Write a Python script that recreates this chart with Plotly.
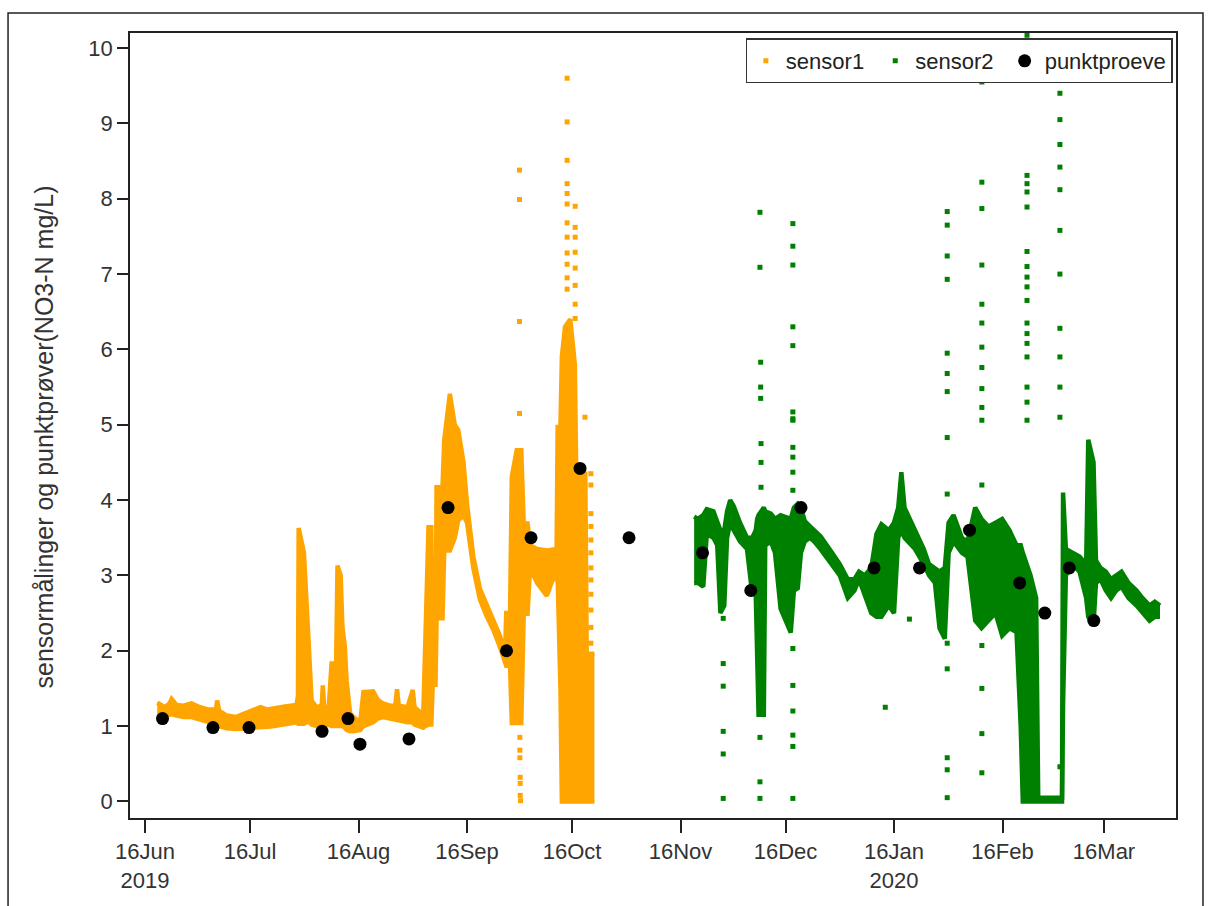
import numpy as np
import pandas as pd
import plotly.graph_objects as go

BASE = pd.Timestamp("2019-06-16")

# ---------------- sensor1 (days since 16Jun2019, low / high envelope) ----------------
s1_day = [3.5, 5.7, 7.0, 7.6, 9.0, 11, 13.3, 15.7, 18, 20.3, 20.6, 21.2, 23.3, 26, 28, 30, 31.5, 33, 35, 37, 40,
          43.3, 43.7, 43.9, 45.4, 46.2, 47.1, 47.6, 49, 50.5, 50.8, 51.2, 52.5, 53.3, 54.6, 55.0, 55.9, 56.4,
          57.1, 57.6, 58.6, 59.5, 61.5, 62.4, 65.2, 66.5, 68, 70, 71.5, 72, 72.5, 75, 76.5, 77, 79.5, 80.0,
          81.0, 81.8, 82.2, 83.0, 83.3, 85.0, 85.5, 87.1, 88.5, 89.5, 91, 92, 93.8, 95.7, 97.6, 99.5, 101.4,
          102.9, 103.2, 104.3, 104.8, 106.2, 107.5, 108.2, 109.3, 110, 112, 114.8, 116.5, 117.6, 117.9, 118.7,
          119.1, 120.0, 121.5, 122.8, 123.2, 125.0, 125.8, 126.2, 128.4]
s1_lo = [1.17, 1.14, 1.15, 1.16, 1.14, 1.12, 1.12, 1.09, 1.05, 1.03, 1.02, 1.0, 0.97, 0.96, 0.96, 0.97, 0.98, 0.98,
         0.99, 1.0, 1.02, 1.05, 1.1, 1.03, 1.03, 1.05, 1.05, 1.02, 1.0, 1.0, 1.0, 1.0, 1.02, 1.0, 1.0, 1.0, 1.0,
         1.0, 0.98, 0.95, 0.93, 0.93, 0.95, 1.0, 1.05, 1.1, 1.12, 1.1, 1.08, 1.08, 1.08, 1.05, 1.05, 1.02, 0.98,
         1.0, 1.02, 1.02, 1.55, 1.55, 2.43, 2.43, 3.33, 3.33, 3.5, 3.73, 3.8, 3.7, 3.1, 2.68, 2.46, 2.28, 2.05,
         1.82, 1.8, 1.8, 1.04, 1.04, 1.04, 2.49, 2.49, 3.1, 2.9, 2.73, 2.95, 2.95, 2.95, 1.5,
         0.0, 0.0, 0.0, 0.0, 0.0, 0.0, 0.0, 0.0, 0.0]
s1_hi = [1.31, 1.25, 1.30, 1.36, 1.28, 1.27, 1.30, 1.25, 1.22, 1.22, 1.34, 1.2, 1.14, 1.12, 1.16, 1.20, 1.22, 1.25,
         1.22, 1.24, 1.26, 1.28, 1.4, 3.63, 3.3, 2.6, 1.6, 1.34, 1.25, 1.27, 1.54, 1.25, 1.25, 1.83, 1.83, 3.13,
         3.0, 2.31, 2.05, 1.6, 1.17, 1.12, 1.05, 1.45, 1.46, 1.35, 1.3, 1.27, 1.27, 1.49, 1.27, 1.25, 1.48, 1.25,
         1.15, 2.05, 3.64, 3.64, 1.75, 1.75, 4.17, 4.17, 4.8, 5.41, 5.0, 4.93, 4.5, 3.95, 3.25, 2.82, 2.6, 2.42,
         2.2, 1.97, 2.5, 2.5, 4.31, 4.66, 4.66, 3.69, 3.69, 3.4, 3.35, 3.33, 3.35, 3.35, 4.97, 4.97,
         5.9, 6.3, 6.4, 5.8, 4.4, 4.35, 4.35, 1.96, 1.96]
# scattered single readings of sensor1
s1_out_day = [107.0, 107.0, 107.0, 107.0, 107.1, 107.1, 107.1, 107.2, 107.2, 107.2, 107.3,
              120.6, 120.6, 120.6, 120.6, 120.6, 120.6, 120.6, 120.6, 120.6, 120.6, 120.6, 120.6,
              122.9, 122.9, 122.9, 122.9, 122.9, 122.9, 122.9, 122.9,
              127.4, 127.4, 127.4, 127.4, 127.4, 127.4, 127.4, 127.4, 127.4, 127.4, 127.4, 127.4,
              122.4, 125.7]
s1_out_val = [8.38, 7.99, 6.37, 5.15, 0.85, 0.68, 0.58, 0.32, 0.24, 0.08, 0.01,
              9.6, 9.02, 8.51, 8.2, 8.07, 7.93, 7.68, 7.49, 7.28, 7.13, 6.8, 6.95,
              7.9, 7.62, 7.49, 7.29, 7.08, 6.85, 6.41, 6.6,
              4.35, 4.2, 3.82, 3.65, 3.47, 3.3, 3.1, 2.94, 2.75, 2.54, 2.31, 2.1,
              4.7, 5.1]

# ---------------- sensor2 ----------------
s2_day = [156.9, 158, 159.5, 160.5, 162.4, 163.5, 164.4, 165.5, 166.3, 167.2, 168.2, 170, 172, 173.5, 174.5,
          174.9, 175.3, 176.8, 177.2, 178.8, 180, 181.6, 183, 184.5, 185.4, 186.5, 187.4, 188.5, 190, 191.2, 193,
          196, 198.5, 200.8, 202.7, 204, 205.6, 207.5, 209, 210.4, 212.5, 214, 215.2, 216.1, 217, 220, 222.5,
          224, 225.7, 227, 228.5, 229.6, 231, 233.4, 235, 237.2, 239, 241, 243, 244.9, 247, 249, 250.2, 250.8,
          253, 254.6, 255.2, 262.0, 262.3, 263.1, 265, 267, 268.9, 269.5, 271, 271.7, 273, 274.5, 276, 277.5,
          279, 281, 283.3, 285, 287, 288.5, 290]
s2_lo = [2.9, 2.9, 2.85, 3.55, 3.5, 3.4, 2.5, 2.6, 3.5, 3.7, 3.6, 3.45, 3.35, 2.75, 2.75,
         1.9, 1.15, 1.15, 3.4, 3.45, 3.3, 2.56, 2.4, 2.24, 2.8, 2.83, 3.3, 3.45, 3.5, 3.45, 3.35,
         3.15, 3.0, 2.7, 2.8, 2.95, 2.75, 2.5, 2.45, 2.45, 2.6, 2.5, 3.5, 3.6, 3.5, 3.35, 3.15,
         3.0, 2.9, 2.3, 2.16, 3.3, 3.45, 3.3, 3.25, 2.4, 2.3, 2.4, 2.5, 2.2, 2.3, 2.25, 1.0, 0.0,
         0.0, 0.0, 0.0, 0.0, 1.3, 3.0, 3.15, 3.05, 2.7, 2.45, 2.35, 2.9, 2.95, 2.8, 2.7, 2.8,
         2.85, 2.7, 2.6, 2.5, 2.4, 2.45, 2.45]
s2_hi = [3.78, 3.75, 3.8, 3.88, 3.85, 3.7, 3.6, 3.6, 3.85, 4.0, 3.92, 3.7, 3.5, 3.5, 3.6,
         3.75, 3.8, 3.9, 3.85, 3.82, 3.75, 3.8, 3.78, 3.75, 3.9, 3.95, 3.9, 3.72, 3.65, 3.6, 3.52,
         3.32, 3.15, 2.95, 2.95, 3.05, 3.0, 3.1, 3.55, 3.68, 3.6, 3.7, 3.9, 4.37, 3.9, 3.6, 3.35,
         3.15, 3.1, 3.05, 3.1, 3.7, 3.8, 3.5, 3.45, 3.9, 3.75, 3.65, 3.7, 3.75, 3.6, 3.4, 3.4, 3.3,
         3.0, 2.7, 0.05, 0.05, 4.1, 3.35, 3.3, 3.25, 3.15, 4.8, 4.5, 3.2, 3.1, 3.05, 2.95, 3.0,
         3.05, 2.9, 2.8, 2.7, 2.6, 2.65, 2.6]
s2_out_day = [165.2, 165.2, 165.2, 165.2, 165.2, 165.2,
              175.7, 175.7, 175.7, 175.9, 175.9, 175.9, 175.7, 175.7, 175.7, 176.0, 176.0, 176.0,
              185.1, 185.1, 185.1, 185.1, 185.1, 185.1, 185.1, 185.1, 185.1, 185.1, 185.1, 185.1, 185.1, 185.1,
              185.1, 185.1, 185.1, 185.1, 185.1,
              211.5, 218.4,
              229.2, 229.2, 229.2, 229.2, 229.2, 229.2, 229.2, 229.2, 229.2, 229.2, 229.2, 229.2, 229.2, 229.2,
              239.1, 239.1, 239.1, 239.1, 239.1, 239.1, 239.1, 239.1, 239.1, 239.1, 239.1, 239.1, 239.1, 239.1,
              239.1, 239.1,
              252.0, 252.0, 252.0, 252.0, 252.0, 252.0, 252.0, 252.0, 252.0, 252.0, 252.0, 252.0, 252.0, 252.0,
              252.0, 252.0, 252.0,
              261.4, 261.4, 261.4, 261.4, 261.4, 261.4, 261.4, 261.4, 261.4, 261.4, 261.4, 261.4, 261.4]
s2_out_val = [2.43, 1.83, 1.53, 0.93, 0.63, 0.04,
              10.0, 7.82, 7.09, 5.83, 5.5, 5.35, 0.85, 0.26, 0.04, 4.75, 4.5, 4.17,
              9.57, 7.67, 7.37, 7.12, 6.3, 6.05, 5.17, 5.08, 4.7, 4.57, 4.37, 2.03, 1.54, 1.2, 0.88, 0.73,
              0.04, 4.13, 5.06,
              1.25, 2.42,
              7.83, 7.65, 7.24, 6.93, 5.95, 5.68, 5.44, 4.83, 4.08, 2.1, 1.76, 0.58, 0.42, 0.05,
              9.55, 8.22, 7.87, 7.12, 6.6, 6.35, 6.03, 5.76, 5.48, 5.23, 5.06, 4.2, 2.07, 1.5, 0.9, 0.38,
              10.17, 8.31, 8.2, 8.09, 7.89, 7.3, 7.1, 6.96, 6.83, 6.65, 6.35, 6.21, 6.08, 5.9, 5.5, 5.3, 5.06,
              9.7, 9.4, 9.05, 8.72, 8.42, 8.12, 7.58, 7.0, 6.28, 5.9, 5.5, 5.1, 0.46]

# ---------------- punktproeve ----------------
pp_date = ["2019-06-21 00:00", "2019-07-05 10:00", "2019-07-15 17:00", "2019-08-05 14:00", "2019-08-13 00:00",
           "2019-08-16 10:00", "2019-08-30 10:00", "2019-09-10 14:00", "2019-09-27 07:00", "2019-10-04 07:00",
           "2019-10-18 07:00", "2019-11-01 07:00", "2019-11-22 07:00", "2019-12-06 02:00", "2019-12-20 10:00",
           "2020-01-10 07:00", "2020-01-23 07:00", "2020-02-06 14:00", "2020-02-20 22:00", "2020-02-28 02:00",
           "2020-03-06 02:00", "2020-03-13 02:00"]
pp_val = [1.1, 0.98, 0.98, 0.93, 1.1, 0.76, 0.83, 3.9, 2.0, 3.5, 4.42, 3.5, 3.3, 2.8, 3.9, 3.1, 3.1, 3.6, 2.9,
          2.5, 3.1, 2.4]

tick_dates = ["2019-06-16", "2019-07-16", "2019-08-16", "2019-09-16", "2019-10-16", "2019-11-16",
              "2019-12-16", "2020-01-16", "2020-02-16", "2020-03-16"]
tick_text = ["16Jun<br>2019", "16Jul", "16Aug", "16Sep", "16Oct", "16Nov", "16Dec", "16Jan<br>2020", "16Feb",
             "16Mar"]
y_title = "sensormålinger og punktprøver(NO3-N mg/L)"


def to_dt(days):
    return BASE + pd.to_timedelta(np.asarray(days, dtype=float), unit="D")


ORANGE = "#FFA500"
GREEN = "#008000"
FONT = "Liberation Sans, Arial, sans-serif"
NBSP = "\u00a0"

fig = go.Figure()

for name, day, lo, hi, oday, oval, col in [
    ("sensor1", s1_day, s1_lo, s1_hi, s1_out_day, s1_out_val, ORANGE),
    ("sensor2", s2_day, s2_lo, s2_hi, s2_out_day, s2_out_val, GREEN),
]:
    x = to_dt(day)
    fig.add_trace(go.Scatter(x=x, y=lo, mode="lines", line=dict(color=col, width=4.5),
                             showlegend=False, hoverinfo="skip", legendgroup=name))
    fig.add_trace(go.Scatter(x=x, y=hi, mode="lines", line=dict(color=col, width=4.5),
                             fill="tonexty", fillcolor=col, showlegend=False, hoverinfo="skip",
                             legendgroup=name))
    fig.add_trace(go.Scatter(x=to_dt(oday), y=oval, mode="markers", name=name + NBSP, legendgroup=name,
                             marker=dict(symbol="square", size=5, color=col, line=dict(width=0))))

fig.add_trace(go.Scatter(x=pd.to_datetime(pp_date, format="%Y-%m-%d %H:%M"), y=pp_val, mode="markers",
                         name="punktproeve",
                         marker=dict(symbol="circle", size=13, color="black", line=dict(width=0))))

x_left = BASE + pd.Timedelta(days=-4.29)
x_right = BASE + pd.Timedelta(days=294.57)

fig.update_layout(
    width=1212, height=906,
    margin=dict(l=130, r=36, t=33, b=88),
    paper_bgcolor="white", plot_bgcolor="white",
    font=dict(family=FONT, size=22, color="#333333"),
    showlegend=True,
    legend=dict(orientation="h", x=0.997, xanchor="right", y=0.993, yanchor="top",
                bgcolor="white", bordercolor="#333333", borderwidth=1.5,
                font=dict(family=FONT, size=22, color="#222222"), itemwidth=30, tracegroupgap=0),
    xaxis=dict(range=[x_left, x_right], tickmode="array", tickvals=pd.to_datetime(tick_dates),
               ticktext=tick_text, showgrid=False, zeroline=False, showline=True, mirror=True,
               linecolor="#222222", linewidth=1.5, ticks="outside", ticklen=13, tickwidth=1.5,
               tickcolor="#222222", tickfont=dict(family=FONT, size=22, color="#333333")),
    yaxis=dict(range=[-0.22, 10.2], tickmode="array", tickvals=list(range(0, 11)),
               showgrid=False, zeroline=False, showline=True, mirror=True, linecolor="#222222",
               linewidth=1.5, ticks="outside", ticklen=11, tickwidth=1.5, tickcolor="#222222",
               tickfont=dict(family=FONT, size=22, color="#333333")),
    annotations=[dict(text=y_title, textangle=-90, xref="paper", yref="paper", x=-0.0813, y=0.486,
                      xanchor="center", yanchor="middle", showarrow=False,
                      font=dict(family=FONT, size=25, color="#333333"))],
    shapes=[dict(type="rect", xref="paper", yref="paper", x0=-0.1166, x1=1.0258, y0=-0.115, y1=1.0255,
                 line=dict(color="#222222", width=1.5), fillcolor="rgba(0,0,0,0)", layer="below")],
)

fig.write_html("out.html")
